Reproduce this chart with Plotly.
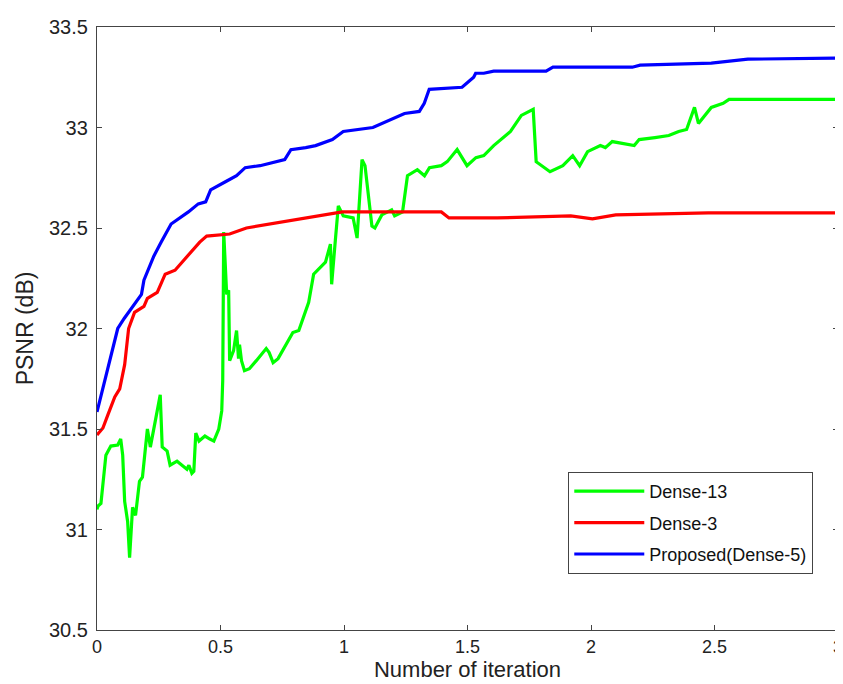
import plotly.graph_objects as go

# Dense-13 (green)
d13_x = [0.0, 0.004, 0.016, 0.036, 0.056, 0.084, 0.096, 0.104, 0.112, 0.124, 0.132, 0.144, 0.156, 0.172, 0.184,
         0.196, 0.204, 0.216, 0.232, 0.256, 0.264, 0.284, 0.296, 0.324, 0.344, 0.364, 0.372, 0.384, 0.392, 0.40,
         0.413, 0.437, 0.457, 0.473, 0.493, 0.505, 0.509, 0.513, 0.525, 0.533, 0.537, 0.553, 0.565, 0.573, 0.577,
         0.585, 0.597, 0.617, 0.645, 0.685, 0.697, 0.713, 0.733, 0.765, 0.793, 0.817, 0.857, 0.877, 0.925, 0.945,
         0.950, 0.965, 0.977, 0.997, 1.037, 1.053, 1.073, 1.085, 1.113, 1.125, 1.153, 1.193, 1.205, 1.237, 1.257,
         1.297, 1.326, 1.346, 1.394, 1.418, 1.458, 1.498, 1.534, 1.566, 1.606, 1.674, 1.718, 1.766, 1.778, 1.834,
         1.886, 1.926, 1.954, 1.986, 2.038, 2.058, 2.086, 2.175, 2.195, 2.259, 2.315, 2.355, 2.387, 2.419, 2.435,
         2.487, 2.535, 2.559, 2.579, 3.0]
d13_y = [31.10, 31.117, 31.13, 31.37, 31.415, 31.42, 31.45, 31.37, 31.14, 31.04, 30.86, 31.11, 31.07, 31.24, 31.26,
         31.42, 31.50, 31.41, 31.52, 31.67, 31.41, 31.39, 31.32, 31.34, 31.32, 31.30, 31.32, 31.28, 31.29, 31.48,
         31.44, 31.465, 31.45, 31.44, 31.50, 31.59, 31.74, 32.48, 32.17, 32.19, 31.84, 31.89, 31.99, 31.85, 31.92,
         31.84, 31.79, 31.80, 31.84, 31.90, 31.88, 31.83, 31.85, 31.92, 31.98, 31.99, 32.13, 32.27, 32.33, 32.42,
         32.22, 32.44, 32.61, 32.56, 32.55, 32.45, 32.84, 32.81, 32.51, 32.50, 32.565, 32.59, 32.56, 32.58, 32.76,
         32.79, 32.76, 32.80, 32.81, 32.83, 32.89, 32.81, 32.85, 32.86, 32.91, 32.98, 33.06, 33.09, 32.83, 32.78,
         32.81, 32.86, 32.81, 32.88, 32.91, 32.90, 32.93, 32.91, 32.94, 32.95, 32.96, 32.98, 32.99, 33.10, 33.02,
         33.10, 33.12, 33.14, 33.14, 33.14]

# Dense-3 (red)
d3_x = [0.0, 0.024, 0.044, 0.072, 0.092, 0.112, 0.128, 0.152, 0.19, 0.204, 0.244, 0.276, 0.316, 0.352, 0.392,
        0.416, 0.444, 0.537, 0.605, 0.725, 0.845, 0.993, 1.394, 1.425, 1.62, 1.918, 2.006, 2.10, 2.475, 3.0]
d3_y = [31.47, 31.505, 31.57, 31.66, 31.70, 31.82, 32.0, 32.08, 32.11, 32.15, 32.18, 32.27, 32.29, 32.34, 32.40,
        32.43, 32.46, 32.47, 32.50, 32.525, 32.55, 32.58, 32.58, 32.55, 32.55, 32.56, 32.545, 32.565, 32.575, 32.575]

# Proposed (Dense-5) (blue)
d5_x = [0.0, 0.084, 0.11, 0.18, 0.19, 0.23, 0.26, 0.30, 0.37, 0.41, 0.44, 0.46, 0.52, 0.565, 0.60, 0.66, 0.76,
        0.785, 0.845, 0.885, 0.953, 0.997, 1.117, 1.245, 1.305, 1.325, 1.345, 1.478, 1.525, 1.533, 1.566, 1.606,
        1.818, 1.846, 2.167, 2.199, 2.487, 2.635, 3.0]
d5_y = [31.585, 32.0, 32.05, 32.17, 32.24, 32.36, 32.43, 32.52, 32.58, 32.62, 32.63, 32.69, 32.73, 32.76, 32.80,
        32.81, 32.84, 32.89, 32.90, 32.91, 32.94, 32.98, 33.00, 33.07, 33.08, 33.12, 33.19, 33.20, 33.25, 33.27,
        33.27, 33.28, 33.28, 33.30, 33.30, 33.31, 33.32, 33.34, 33.345]

x_ticks = [0, 0.5, 1, 1.5, 2, 2.5, 3]
x_tick_labels = ["0", "0.5", "1", "1.5", "2", "2.5", "3"]
y_ticks = [30.5, 31, 31.5, 32, 32.5, 33, 33.5]
y_tick_labels = ["30.5", "31", "31.5", "32", "32.5", "33", "33.5"]

FONT = "Liberation Sans, Arial, sans-serif"

fig = go.Figure()
fig.add_trace(go.Scatter(x=d13_x, y=d13_y, mode="lines", name="Dense-13", legendgroup="a",
                         line=dict(color="#00ff00", width=3.2)))
fig.add_trace(go.Scatter(x=d3_x, y=d3_y, mode="lines", name="Dense-3", legendgroup="b",
                         line=dict(color="#ff0000", width=3.2)))
fig.add_trace(go.Scatter(x=d5_x, y=d5_y, mode="lines", name="Proposed(Dense-5)", legendgroup="c",
                         line=dict(color="#0000ff", width=3.2)))

axis_common = dict(showline=True, linecolor="#444444", linewidth=1.3, mirror="allticks",
                   ticks="inside", ticklen=5, tickcolor="#444444", showgrid=False, zeroline=False)

fig.update_layout(
    width=843, height=684,
    margin=dict(l=89, r=8, t=19, b=62),
    paper_bgcolor="white", plot_bgcolor="white",
    font=dict(family=FONT, color="#222222"),
    xaxis=dict(range=[0, 3], tickvals=x_ticks, ticktext=x_tick_labels,
               tickfont=dict(family=FONT, size=18, color="#222222"), ticklabelstandoff=0,
               title=dict(text="Number of iteration", font=dict(size=22), standoff=5), **axis_common),
    yaxis=dict(range=[30.5, 33.5], tickvals=y_ticks, ticktext=y_tick_labels,
               tickfont=dict(family=FONT, size=20, color="#222222"), ticklabelstandoff=4,
               title=dict(text="PSNR (dB)", font=dict(size=23), standoff=8), **axis_common),
    legend=dict(x=0.636, y=0.262, xanchor="left", yanchor="top",
                bordercolor="#444444", borderwidth=1, bgcolor="white", itemwidth=70,
                font=dict(size=18, color="#111111"), traceorder="grouped", tracegroupgap=5),
    showlegend=True,
)

fig.write_html("out.html")
